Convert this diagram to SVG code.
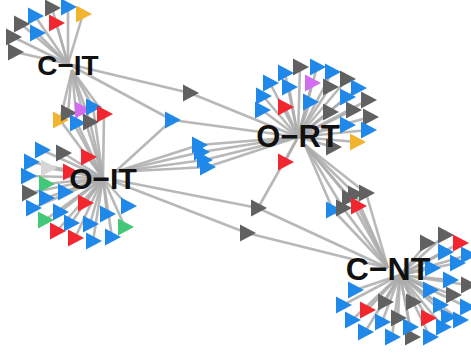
<svg xmlns="http://www.w3.org/2000/svg" xmlns:xlink="http://www.w3.org/1999/xlink" width="471" height="357" viewBox="0 0 471 357">
<style>
.e line{stroke:#ababab;stroke-width:2.6;stroke-opacity:0.85}
.b{fill:#1f88e8}.g{fill:#616161}.r{fill:#f2262e}.o{fill:#f2b42f}.p{fill:#d46cf2}.n{fill:#42c878}.l{fill:#d6d6d6}
.lab{font-family:"Liberation Sans",Arial,sans-serif;font-weight:bold;font-size:28px;fill:#111;text-anchor:middle}
</style>
<defs><path id="t" d="M-7,-8.5 L9,0 L-7,8.5Z" stroke-linejoin="round"/></defs>
<rect width="471" height="357" fill="#fff"/>
<g id="connectors" class="e">
<!-- C-IT -->
<line x1="68" y1="64" x2="52" y2="8"/><line x1="68" y1="64" x2="68" y2="7"/><line x1="68" y1="64" x2="83" y2="14"/><line x1="68" y1="64" x2="35" y2="16"/><line x1="68" y1="64" x2="21" y2="24"/><line x1="68" y1="64" x2="56" y2="23"/><line x1="68" y1="64" x2="37" y2="33"/><line x1="68" y1="64" x2="13" y2="37"/><line x1="68" y1="64" x2="15" y2="52"/>
<line x1="72" y1="70" x2="60" y2="120"/><line x1="72" y1="70" x2="68" y2="113"/><line x1="72" y1="70" x2="82" y2="110"/><line x1="72" y1="70" x2="93" y2="107"/><line x1="72" y1="70" x2="104" y2="114"/><line x1="72" y1="70" x2="77" y2="123"/><line x1="72" y1="70" x2="90" y2="122"/>
<line x1="68" y1="64" x2="172" y2="120"/><line x1="68" y1="64" x2="190" y2="93"/>
<!-- O-IT -->
<line x1="103" y1="178" x2="60" y2="120"/><line x1="103" y1="178" x2="68" y2="113"/><line x1="103" y1="178" x2="82" y2="110"/><line x1="103" y1="178" x2="93" y2="107"/><line x1="103" y1="178" x2="104" y2="114"/><line x1="103" y1="178" x2="77" y2="123"/><line x1="103" y1="178" x2="90" y2="122"/>
<line x1="103" y1="178" x2="42" y2="150"/><line x1="103" y1="178" x2="63" y2="153"/><line x1="103" y1="178" x2="88" y2="157"/><line x1="103" y1="178" x2="31" y2="162"/><line x1="103" y1="178" x2="48" y2="168"/><line x1="103" y1="178" x2="70" y2="172"/><line x1="103" y1="178" x2="28" y2="176"/><line x1="103" y1="178" x2="46" y2="184"/><line x1="103" y1="178" x2="29" y2="193"/><line x1="103" y1="178" x2="65" y2="192"/><line x1="103" y1="178" x2="46" y2="198"/><line x1="103" y1="178" x2="33" y2="208"/><line x1="103" y1="178" x2="85" y2="203"/><line x1="103" y1="178" x2="60" y2="212"/><line x1="103" y1="178" x2="107" y2="214"/><line x1="103" y1="178" x2="128" y2="206"/><line x1="103" y1="178" x2="45" y2="220"/><line x1="103" y1="178" x2="71" y2="223"/><line x1="103" y1="178" x2="90" y2="224"/><line x1="103" y1="178" x2="125" y2="227"/><line x1="103" y1="178" x2="57" y2="231"/><line x1="103" y1="178" x2="75" y2="238"/><line x1="103" y1="178" x2="93" y2="241"/><line x1="103" y1="178" x2="112" y2="237"/>
<line x1="115" y1="172" x2="199" y2="145"/><line x1="115" y1="172" x2="201" y2="152"/><line x1="115" y1="172" x2="204" y2="160"/><line x1="115" y1="172" x2="207" y2="167"/><line x1="115" y1="172" x2="172" y2="120"/><line x1="115" y1="180" x2="258" y2="208"/><line x1="115" y1="182" x2="247" y2="233"/>
<!-- O-RT -->
<line x1="298" y1="137" x2="199" y2="145"/><line x1="298" y1="137" x2="201" y2="152"/><line x1="298" y1="137" x2="204" y2="160"/><line x1="298" y1="137" x2="207" y2="167"/><line x1="298" y1="137" x2="172" y2="120"/><line x1="298" y1="137" x2="190" y2="93"/><line x1="298" y1="137" x2="258" y2="208"/><line x1="298" y1="137" x2="285" y2="162"/>
<line x1="298" y1="137" x2="270" y2="83"/><line x1="298" y1="137" x2="285" y2="73"/><line x1="298" y1="137" x2="300" y2="67"/><line x1="298" y1="137" x2="317" y2="67"/><line x1="298" y1="137" x2="332" y2="72"/><line x1="298" y1="137" x2="347" y2="79"/><line x1="298" y1="137" x2="358" y2="88"/><line x1="298" y1="137" x2="368" y2="100"/><line x1="298" y1="137" x2="370" y2="117"/><line x1="298" y1="137" x2="368" y2="130"/><line x1="298" y1="137" x2="357" y2="142"/><line x1="298" y1="137" x2="347" y2="125"/><line x1="298" y1="137" x2="353" y2="110"/><line x1="298" y1="137" x2="347" y2="97"/><line x1="298" y1="137" x2="330" y2="87"/><line x1="298" y1="137" x2="312" y2="83"/><line x1="298" y1="137" x2="289" y2="87"/><line x1="298" y1="137" x2="263" y2="96"/><line x1="298" y1="137" x2="262" y2="110"/><line x1="298" y1="137" x2="285" y2="107"/><line x1="298" y1="137" x2="310" y2="102"/><line x1="298" y1="137" x2="330" y2="112"/><line x1="298" y1="137" x2="333" y2="147"/>
<line x1="305" y1="145" x2="333" y2="210"/><line x1="305" y1="145" x2="343" y2="208"/><line x1="305" y1="145" x2="349" y2="198"/><line x1="305" y1="145" x2="355" y2="194"/><line x1="305" y1="145" x2="358" y2="207"/><line x1="305" y1="145" x2="366" y2="193"/>
<!-- C-NT -->
<line x1="388" y1="268" x2="333" y2="210"/><line x1="388" y1="268" x2="343" y2="208"/><line x1="388" y1="268" x2="349" y2="198"/><line x1="388" y1="268" x2="355" y2="194"/><line x1="388" y1="268" x2="358" y2="207"/><line x1="388" y1="268" x2="366" y2="193"/><line x1="388" y1="268" x2="258" y2="208"/><line x1="388" y1="268" x2="247" y2="233"/>
<line x1="400" y1="275" x2="445" y2="235"/><line x1="400" y1="275" x2="460" y2="243"/><line x1="400" y1="275" x2="427" y2="243"/><line x1="400" y1="275" x2="445" y2="252"/><line x1="400" y1="275" x2="468" y2="255"/><line x1="400" y1="275" x2="432" y2="268"/><line x1="400" y1="275" x2="457" y2="263"/><line x1="400" y1="275" x2="450" y2="280"/><line x1="400" y1="275" x2="468" y2="285"/><line x1="400" y1="275" x2="430" y2="290"/><line x1="400" y1="275" x2="453" y2="295"/><line x1="400" y1="275" x2="467" y2="307"/><line x1="400" y1="275" x2="440" y2="305"/><line x1="400" y1="275" x2="428" y2="318"/><line x1="400" y1="275" x2="448" y2="317"/><line x1="400" y1="275" x2="413" y2="302"/><line x1="400" y1="275" x2="398" y2="318"/><line x1="400" y1="275" x2="385" y2="302"/><line x1="400" y1="275" x2="355" y2="290"/><line x1="400" y1="275" x2="343" y2="305"/><line x1="400" y1="275" x2="367" y2="310"/><line x1="400" y1="275" x2="352" y2="320"/><line x1="400" y1="275" x2="382" y2="322"/><line x1="400" y1="275" x2="365" y2="332"/><line x1="400" y1="275" x2="392" y2="337"/><line x1="400" y1="275" x2="412" y2="337"/><line x1="400" y1="275" x2="430" y2="337"/><line x1="400" y1="275" x2="443" y2="327"/><line x1="400" y1="275" x2="410" y2="327"/><line x1="400" y1="275" x2="460" y2="320"/>
</g>
<g id="C-IT-members">
<use href="#t" x="52" y="8" class="g"/><use href="#t" x="68" y="7" class="b"/><use href="#t" x="83" y="14" class="o"/><use href="#t" x="35" y="16" class="b"/><use href="#t" x="21" y="24" class="g"/><use href="#t" x="56" y="23" class="r"/><use href="#t" x="37" y="33" class="b"/><use href="#t" x="13" y="37" class="g"/><use href="#t" x="15" y="52" class="g"/>
</g>
<g id="shared-members">
<use href="#t" x="60" y="120" class="o"/><use href="#t" x="68" y="113" class="g"/><use href="#t" x="82" y="110" class="p"/><use href="#t" x="93" y="107" class="b"/><use href="#t" x="104" y="114" class="r"/><use href="#t" x="77" y="123" class="b"/><use href="#t" x="90" y="122" class="g"/>
<use href="#t" x="172" y="120" class="b"/><use href="#t" x="190" y="93" class="g"/>
<use href="#t" x="199" y="145" class="b"/><use href="#t" x="201" y="152" class="b"/><use href="#t" x="204" y="160" class="b"/><use href="#t" x="207" y="167" class="b"/>
<use href="#t" x="258" y="208" class="g"/><use href="#t" x="247" y="233" class="g"/><use href="#t" x="285" y="162" class="r"/>
<use href="#t" x="333" y="210" class="b"/><use href="#t" x="343" y="208" class="g"/><use href="#t" x="349" y="198" class="g"/><use href="#t" x="355" y="194" class="g"/><use href="#t" x="366" y="193" class="g"/><use href="#t" x="358" y="206" class="r"/>
</g>
<g id="O-IT-members">
<use href="#t" x="42" y="150" class="b"/><use href="#t" x="63" y="153" class="g"/><use href="#t" x="88" y="157" class="r"/><use href="#t" x="31" y="162" class="b"/><use href="#t" x="48" y="168" class="l"/><use href="#t" x="70" y="172" class="r"/><use href="#t" x="28" y="176" class="b"/><use href="#t" x="46" y="184" class="n"/><use href="#t" x="29" y="193" class="g"/><use href="#t" x="65" y="192" class="b"/><use href="#t" x="46" y="198" class="b"/><use href="#t" x="33" y="208" class="b"/><use href="#t" x="85" y="203" class="r"/><use href="#t" x="60" y="212" class="b"/><use href="#t" x="107" y="214" class="b"/><use href="#t" x="128" y="206" class="b"/><use href="#t" x="45" y="220" class="n"/><use href="#t" x="71" y="223" class="b"/><use href="#t" x="90" y="224" class="b"/><use href="#t" x="125" y="227" class="n"/><use href="#t" x="57" y="231" class="r"/><use href="#t" x="75" y="238" class="r"/><use href="#t" x="93" y="241" class="b"/><use href="#t" x="112" y="237" class="b"/>
</g>
<g id="O-RT-members">
<use href="#t" x="270" y="83" class="b"/><use href="#t" x="285" y="73" class="b"/><use href="#t" x="300" y="67" class="g"/><use href="#t" x="317" y="67" class="b"/><use href="#t" x="332" y="72" class="b"/><use href="#t" x="347" y="79" class="g"/><use href="#t" x="358" y="88" class="b"/><use href="#t" x="368" y="100" class="g"/><use href="#t" x="370" y="117" class="g"/><use href="#t" x="368" y="130" class="b"/><use href="#t" x="357" y="142" class="o"/><use href="#t" x="347" y="125" class="b"/><use href="#t" x="353" y="110" class="g"/><use href="#t" x="347" y="97" class="b"/><use href="#t" x="330" y="87" class="g"/><use href="#t" x="312" y="83" class="p"/><use href="#t" x="289" y="87" class="b"/><use href="#t" x="263" y="96" class="b"/><use href="#t" x="262" y="110" class="b"/><use href="#t" x="285" y="107" class="r"/><use href="#t" x="310" y="102" class="b"/><use href="#t" x="330" y="112" class="g"/><use href="#t" x="333" y="147" class="g"/>
</g>
<g id="C-NT-members">
<use href="#t" x="445" y="235" class="g"/><use href="#t" x="460" y="243" class="r"/><use href="#t" x="427" y="243" class="g"/><use href="#t" x="445" y="252" class="b"/><use href="#t" x="468" y="255" class="b"/><use href="#t" x="432" y="268" class="b"/><use href="#t" x="457" y="263" class="b"/><use href="#t" x="450" y="280" class="b"/><use href="#t" x="468" y="285" class="g"/><use href="#t" x="430" y="290" class="b"/><use href="#t" x="453" y="295" class="g"/><use href="#t" x="467" y="307" class="b"/><use href="#t" x="440" y="305" class="b"/><use href="#t" x="413" y="302" class="g"/><use href="#t" x="398" y="318" class="g"/><use href="#t" x="385" y="302" class="g"/><use href="#t" x="355" y="290" class="b"/><use href="#t" x="343" y="305" class="b"/><use href="#t" x="367" y="310" class="r"/><use href="#t" x="352" y="320" class="b"/><use href="#t" x="382" y="322" class="b"/><use href="#t" x="365" y="332" class="b"/><use href="#t" x="392" y="337" class="b"/><use href="#t" x="412" y="337" class="g"/><use href="#t" x="430" y="337" class="b"/><use href="#t" x="443" y="327" class="b"/><use href="#t" x="410" y="327" class="b"/><use href="#t" x="460" y="320" class="b"/><use href="#t" x="448" y="317" class="b"/><use href="#t" x="428" y="318" class="r"/>
</g>
<g id="C-IT"><text class="lab" x="68" y="75">C−IT</text></g>
<g id="O-IT"><text class="lab" x="103" y="189" style="font-size:30px">O−IT</text></g>
<g id="O-RT"><text class="lab" x="298" y="147" style="font-size:31px">O−RT</text></g>
<g id="C-NT"><text class="lab" x="388" y="280" style="font-size:32px">C−NT</text></g>
</svg>
